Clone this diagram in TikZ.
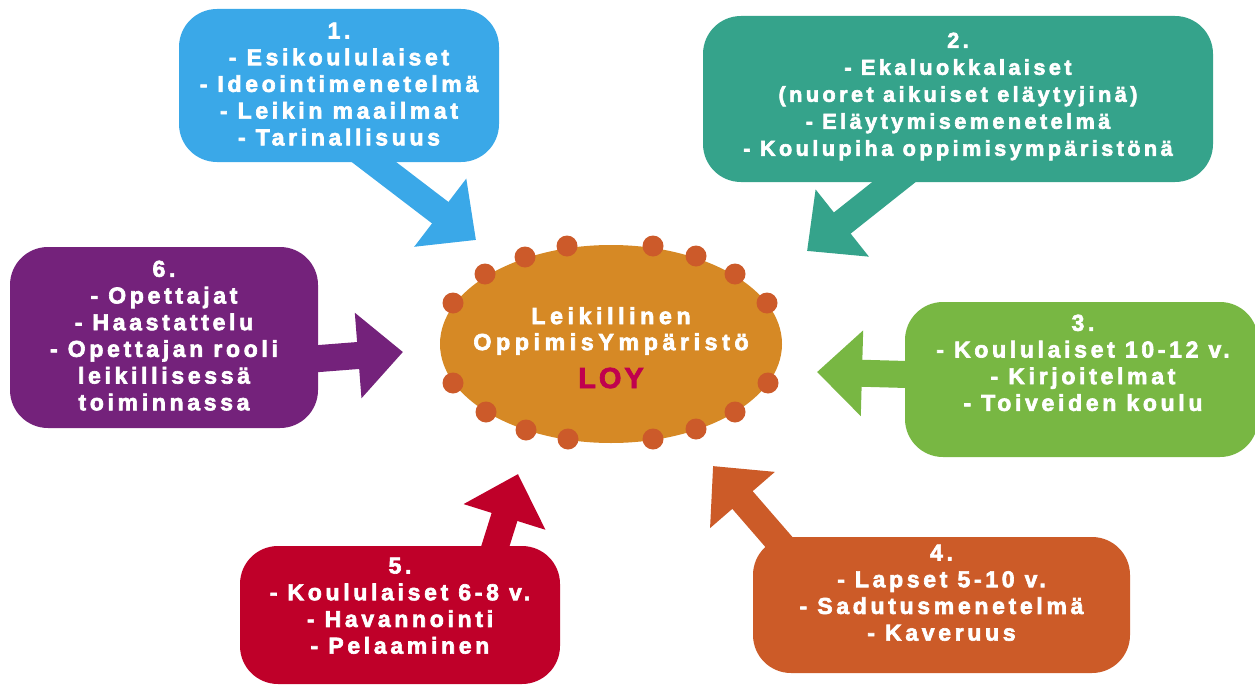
\documentclass[tikz,border=0pt]{standalone}
\usepackage{fontspec}
\usetikzlibrary{arrows.meta,shapes.geometric,calc}

\newfontfamily\panelfont{Liberation Sans}[LetterSpace=16, BoldFeatures={FakeBold=2.8}]
\newfontfamily\hubfont{Liberation Sans}[LetterSpace=19.5, BoldFeatures={FakeBold=2.8}]
\newfontfamily\loyfont{Liberation Sans}[LetterSpace=10, BoldFeatures={FakeBold=2.5}]

\definecolor{cBlue}{HTML}{3AA8E8}
\definecolor{cTeal}{HTML}{35A38B}
\definecolor{cGreen}{HTML}{78B743}
\definecolor{cOrange}{HTML}{CC5B28}
\definecolor{cRed}{HTML}{BF0029}
\definecolor{cPurple}{HTML}{74227B}
\definecolor{cHub}{HTML}{D68925}
\definecolor{cDot}{HTML}{CC5A2A}
\definecolor{cLoy}{HTML}{C0004E}

\pgfdeclarelayer{background}
\pgfsetlayers{background,main}

\begin{document}
\begin{tikzpicture}[x=1pt,y=-1pt,
  panel/.style={rectangle, rounded corners=38pt, inner sep=0pt},
  paneltext/.style={text=white, align=center, inner sep=0pt, anchor=north,
    font=\panelfont\bfseries\fontsize{23}{26.7}\selectfont},
  hubtext/.style={text=white, align=center, inner sep=0pt, anchor=north,
    font=\hubfont\bfseries\fontsize{23.3}{26}\selectfont},
  loytext/.style={text=cLoy, inner sep=0pt, anchor=base,
    font=\loyfont\bfseries\fontsize{29}{34}\selectfont},
  fatarrow/.style={line width=27pt, -{Triangle[length=45pt,width=83pt]}},
  hubdot/.style={fill=cDot}]
\useasboundingbox (0,0) rectangle (1255,685);

% central ellipse
\node[ellipse, fill=cHub, minimum width=342pt, minimum height=198pt, inner sep=0pt] (hub) at (611,344) {};
\foreach \px/\py in {567/246,653/246,525/257,696/256,485/274,735/274,453/303,767/303,
                     453/383,768/383,486/412,735/412,526/430,696/429,568/439,653/439}
  \fill[hubdot] (\px,\py) circle (10.5);
\node[hubtext] (hubname) at (611,307) {Leikillinen\\OppimisYmpäristö};
\node[loytext] (loy) at (611,388) {LOY};

% panels
\node[panel, fill=cBlue, minimum width=320pt, minimum height=153pt] (b1) at (339,85.5) {};
\node[panel, fill=cTeal, minimum width=510pt, minimum height=166pt] (b2) at (958,99) {};
\node[panel, fill=cGreen, minimum width=353pt, minimum height=155pt] (b3) at (1081.5,379.5) {};
\node[panel, fill=cOrange, minimum width=377pt, minimum height=136pt] (b4) at (941.5,605) {};
\node[panel, fill=cRed, minimum width=320pt, minimum height=138pt] (b5) at (400,615) {};
\node[panel, fill=cPurple, minimum width=308pt, minimum height=181pt] (b6) at (164,337.5) {};

\node[paneltext] (t1) at (339,22.5) {1.\\- Esikoululaiset\\- Ideointimenetelmä\\- Leikin maailmat\\- Tarinallisuus};
\node[paneltext, font=\panelfont\bfseries\fontsize{21.6}{27}\selectfont] (t2) at (958,32.5)
  {2.\\- Ekaluokkalaiset\\(nuoret aikuiset eläytyjinä)\\- Eläytymisemenetelmä\\- Koulupiha oppimisympäristönä};
\node[paneltext] (t3) at (1083,314.5) {3.\\- Koululaiset 10-12 v.\\- Kirjoitelmat\\- Toiveiden koulu};
\node[paneltext] (t4) at (941.5,544.5) {4.\\- Lapset 5-10 v.\\- Sadutusmenetelmä\\- Kaveruus};
\node[paneltext] (t5) at (400,557.5) {5.\\- Koululaiset 6-8 v.\\- Havannointi\\- Pelaaminen};
\node[paneltext] (t6) at (164,260.5) {6.\\- Opettajat\\- Haastattelu\\- Opettajan rooli\\leikillisessä\\toiminnassa};

% arrow tips pointing at the hub
\coordinate (p1) at (476,240);
\coordinate (p2) at (807,251);
\coordinate (p3) at (817,372);
\coordinate (p4) at (713,466);
\coordinate (p5) at (518,474);
\coordinate (p6) at (403,352);

% block arrows, drawn behind the panels
\begin{pgfonlayer}{background}
\draw[fatarrow, cBlue]   ($(b1.south)+(7,-21.5)$)    -- (p1);
\draw[fatarrow, cTeal]   ($(b2.south)+(-38.4,-20.5)$) -- (p2);
\draw[fatarrow, cGreen]  ($(b3.west)+(20,-4.5)$)     -- (p3);
\draw[fatarrow, cOrange] ($(b4.north)+(-151.5,18)$)  -- (p4);
\draw[fatarrow, cRed]    ($(b5.north)+(89.5,19)$)    -- (p5);
\draw[fatarrow, cPurple] ($(b6.east)+(-18,22.5)$)    -- (p6);
\end{pgfonlayer}
\end{tikzpicture}
\end{document}
